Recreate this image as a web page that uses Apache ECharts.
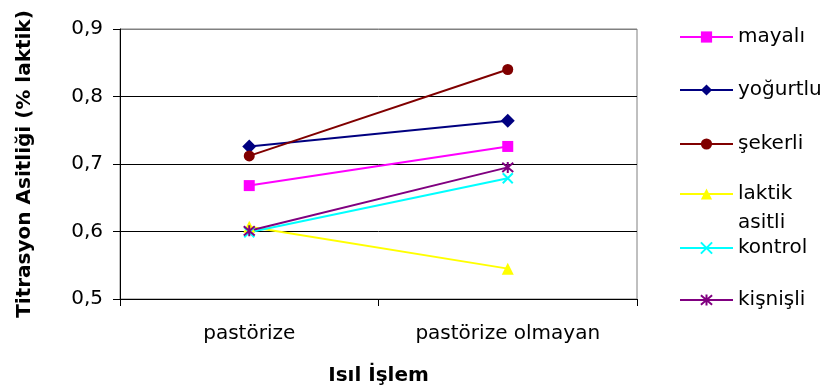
<!DOCTYPE html>
<html>
<head>
<meta charset="utf-8">
<script src="https://cdn.jsdelivr.net/npm/echarts@6/dist/echarts.min.js"></script>
<style>html,body{margin:0;padding:0;background:#fff}#c{width:822px;height:392px}</style>
</head>
<body>
<div id="c"></div>
<script>
const categories = ['pastörize', 'pastörize olmayan'];
const yTicks = [0.5, 0.6, 0.7, 0.8, 0.9];
const seriesNames = ['mayalı', 'yoğurtlu', 'şekerli', 'laktik asitli', 'kontrol', 'kişnişli'];
const mayali = [0.668, 0.726];
const yogurtlu = [0.726, 0.764];
const sekerli = [0.712, 0.840];
const laktikAsitli = [0.607, 0.545];
const kontrol = [0.599, 0.679];
const kisnisli = [0.601, 0.695];

const FONT = 'DejaVu Sans';
const values = [mayali, yogurtlu, sekerli, laktikAsitli, kontrol, kisnisli];
const colors = ['#FF00FF', '#000080', '#800000', '#FFFF00', '#00FFFF', '#800080'];
const symbols = ['rect', 'diamond', 'circle', 'triangle',
  'path://M0,0L10,10M10,0L0,10',
  'path://M0,0L10,10M10,0L0,10M5,-1L5,11'];
const sizes = [11, 14, 11, 12, 10, 11];
const legendY = [36, 89, 143, 193, 247, 299];

const series = seriesNames.map((n, i) => ({
  name: n,
  type: 'line',
  data: values[i],
  symbol: symbols[i],
  symbolSize: sizes[i],
  showSymbol: true,
  animation: false,
  lineStyle: { color: colors[i], width: 2 },
  itemStyle: i >= 4
    ? { color: 'rgba(0,0,0,0)', borderColor: colors[i], borderWidth: 2 }
    : { color: colors[i], borderWidth: 0 }
}));

const legends = seriesNames.map((n, i) => {
  const isLak = n === 'laktik asitli';
  return {
    data: [n],
    left: 674,
    top: isLak ? legendY[i] - 47.5 : legendY[i] - 14,
    itemWidth: 53,
    itemHeight: 14,
    selectedMode: false,
    formatter: isLak ? ' \nlaktik\nasitli' : '{name}',
    textStyle: isLak
      ? { fontFamily: FONT, fontSize: 20, color: '#000', lineHeight: 29 }
      : { fontFamily: FONT, fontSize: 20, color: '#000', lineHeight: 20 }
  };
});

const chart = echarts.init(document.getElementById('c'), null, { renderer: 'canvas' });
chart.setOption({
  animation: false,
  backgroundColor: '#fff',
  grid: { left: 120, right: 185, top: 29, bottom: 93, show: true, borderColor: '#808080', borderWidth: 1, containLabel: false },
  legend: legends,
  xAxis: {
    type: 'category',
    data: categories,
    boundaryGap: true,
    name: 'Isıl İşlem',
    nameLocation: 'middle',
    nameGap: 67,
    nameTextStyle: { fontFamily: FONT, fontSize: 20, fontWeight: 'bold', color: '#000' },
    axisLine: { lineStyle: { color: '#000', width: 1 } },
    axisTick: { show: true, length: 7, lineStyle: { color: '#000' } },
    axisLabel: { fontFamily: FONT, fontSize: 20, color: '#000', margin: 25 },
    splitLine: { show: false }
  },
  yAxis: {
    type: 'value',
    min: yTicks[0],
    max: yTicks[yTicks.length - 1],
    interval: 0.1,
    name: 'Titrasyon Asitliği (% laktik)',
    nameLocation: 'middle',
    nameGap: 85,
    nameTextStyle: { fontFamily: FONT, fontSize: 20, fontWeight: 'bold', color: '#000' },
    axisLine: { show: true, lineStyle: { color: '#000', width: 1 } },
    axisTick: { show: true, length: 7, lineStyle: { color: '#000' } },
    axisLabel: {
      fontFamily: FONT, fontSize: 20, color: '#000', margin: 17,
      formatter: v => v.toFixed(1).replace('.', ',')
    },
    splitLine: { show: true, lineStyle: { color: ['#000', '#000', '#000', '#000', '#808080'], width: 1 } }
  },
  series: series
});
</script>
</body>
</html>
